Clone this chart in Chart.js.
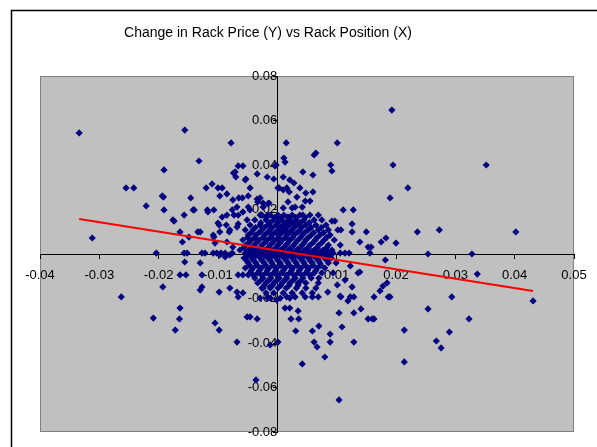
<!DOCTYPE html>
<html>
<head>
<meta charset="utf-8">
<script src="https://cdn.jsdelivr.net/npm/chart.js@4/dist/chart.umd.min.js"></script>
<style>
  html, body { margin: 0; padding: 0; background: #fff; }
  #wrap { position: relative; width: 597px; height: 447px; overflow: hidden; }
</style>
</head>
<body>
<div id="wrap"><canvas id="rackChart" width="597" height="447"></canvas></div>
<script>
// Trend line end points
const trendX = [-0.0334, 0.0431];
const trendY = [0.0157, -0.0166];

// Scattered points, [x, y]
const upperLeft = [
  [-0.0334,0.0544],[-0.0312,0.0072],[-0.0255,0.0297],[-0.0242,0.0297],[-0.0221,0.0216],[-0.0191,0.0378],
  [-0.0194,0.0261],[-0.0191,0.0198],[-0.0156,0.0557],[-0.0132,0.0418],[-0.0078,0.0499],[-0.0174,0.0148],
  [-0.0157,0.0175],[-0.0146,0.0252],[-0.0140,0.0198],[-0.0120,0.0297],[-0.0110,0.0315],[-0.0100,0.0297],
  [-0.0093,0.0297],[-0.0097,0.0261],[-0.0085,0.0270],[-0.0118,0.0198],[-0.0107,0.0198],[-0.0164,0.0099],
  [-0.0160,0.0054],[-0.0149,0.0076],[-0.0134,0.0099],[-0.0130,0.0099],[-0.0204,0.0004],[-0.0157,0.0004],
  [-0.0152,0.0004],[-0.0127,0.0004],[-0.0122,0.0004],[-0.0108,0.0004],[-0.0102,0.0004],[-0.0095,0.0004],
  [-0.0107,0.0076],[-0.0098,0.0130],[-0.0086,0.0130],[-0.0093,0.0166],[-0.0076,0.0198],[-0.0073,0.0175],
  [-0.0068,0.0211],[-0.0081,0.0099],[-0.0075,0.0243],[-0.0065,0.0252],[-0.0059,0.0252],[-0.0049,0.0211],
  [-0.0029,0.0252],[-0.0024,0.0211],[-0.0016,0.0225],[-0.0051,0.0153],[-0.0066,0.0135],[-0.0071,0.0369],
  [-0.0070,0.0346],[-0.0066,0.0396],[-0.0058,0.0396],[-0.0004,0.0396],[-0.0053,0.0337],[-0.0046,0.0297],
  [-0.0192,0.0256],[-0.0176,0.0153],[-0.0142,0.0198],[-0.0117,0.0189],[-0.0085,0.0175],[-0.0100,0.0139],
  [-0.0108,0.0085],[-0.0097,0.0099],[-0.0080,0.0108],[-0.0068,0.0121],[-0.0105,0.0049],[-0.0085,0.0054],
  [-0.0075,0.0031],[-0.0074,0.0364],[-0.0054,0.0333],[-0.0034,0.0360],[-0.0017,0.0346],[-0.0006,0.0337],
  [-0.0049,0.0261],[-0.0034,0.0247],[-0.0033,0.0234],[-0.0024,0.0229],[-0.0014,0.0229],[-0.0046,0.0198],
  [-0.0066,0.0175],[-0.0058,0.0189],[-0.0029,0.0175],[-0.0016,0.0175],[0.0001,0.0297]
];

const upperRight = [
  [0.0015,0.0499],[0.0011,0.0431],[0.0013,0.0413],[0.0062,0.0445],[0.0065,0.0454],[0.0101,0.0499],
  [0.0090,0.0400],[0.0092,0.0373],[0.0190,0.0252],[0.0043,0.0369],[0.0060,0.0355],[0.0010,0.0346],
  [-0.0002,0.0400],[0.0021,0.0333],[0.0028,0.0319],[0.0038,0.0297],[0.0003,0.0297],[0.0010,0.0288],
  [0.0016,0.0297],[0.0020,0.0279],[0.0033,0.0256],[0.0048,0.0274],[0.0060,0.0279],[0.0047,0.0238],
  [0.0055,0.0238],[0.0018,0.0234],[0.0010,0.0207],[0.0025,0.0207],[0.0030,0.0211],[0.0042,0.0211],
  [0.0111,0.0198],[0.0128,0.0198],[0.0001,0.0166],[0.0018,0.0166],[0.0043,0.0175],[0.0193,0.0647],
  [0.0195,0.0400],[0.0352,0.0400],[0.0220,0.0297],[0.0126,0.0135],[0.0126,0.0099],[0.0107,0.0108],
  [0.0150,0.0099],[0.0236,0.0099],[0.0273,0.0108],[0.0402,0.0099],[0.0139,0.0054],[0.0153,0.0031],
  [0.0158,0.0031],[0.0175,0.0054],[0.0183,0.0072],[0.0200,0.0049],[0.0156,0.0004],[0.0121,0.0004],
  [0.0254,0.0000],[0.0328,0.0000],[0.0092,0.0148],[0.0097,0.0148]
];

const lowerRight = [
  [0.0182,-0.0027],[0.0337,-0.0090],[0.0123,-0.0054],[0.0139,-0.0081],[0.0136,-0.0085],[0.0114,-0.0117],
  [0.0126,-0.0148],[0.0101,-0.0139],[0.0104,-0.0656],[0.0214,-0.0485],[0.0214,-0.0342],[0.0268,-0.0391],
  [0.0276,-0.0422],[0.0290,-0.0351],[0.0323,-0.0292],[0.0294,-0.0193],[0.0254,-0.0247],[0.0431,-0.0211],
  [0.0042,-0.0494],[0.0080,-0.0463],[0.0089,-0.0396],[0.0089,-0.0360],[0.0109,-0.0328],[0.0129,-0.0396],
  [0.0062,-0.0396],[0.0067,-0.0418],[0.0059,-0.0346],[0.0070,-0.0324],[0.0160,-0.0292],[0.0163,-0.0292],
  [0.0153,-0.0292],[0.0141,-0.0247],[0.0129,-0.0265],[0.0104,-0.0265],[0.0119,-0.0211],[0.0123,-0.0193],
  [0.0129,-0.0193],[0.0107,-0.0193],[0.0163,-0.0193],[0.0187,-0.0193],[0.0190,-0.0193],[0.0173,-0.0166],
  [0.0178,-0.0144],[0.0185,-0.0130],[0.0106,-0.0189],[0.0031,-0.0346],[0.0023,-0.0292],[0.0036,-0.0292],
  [0.0013,-0.0243],[0.0021,-0.0243],[0.0035,-0.0256],[-0.0001,-0.0207],[0.0016,-0.0193],[0.0030,-0.0193],
  [0.0047,-0.0193],[0.0059,-0.0193],[0.0069,-0.0193],[0.0085,-0.0171],[0.0001,-0.0396]
];

const lowerLeft = [
  [-0.0263,-0.0193],[-0.0209,-0.0288],[-0.0193,-0.0148],[-0.0164,-0.0243],[-0.0165,-0.0292],[-0.0172,-0.0342],
  [-0.0105,-0.0310],[-0.0098,-0.0342],[-0.0068,-0.0396],[-0.0012,-0.0409],[-0.0036,-0.0566],[-0.0051,-0.0283],
  [-0.0046,-0.0283],[-0.0034,-0.0292],[-0.0164,-0.0094],[-0.0154,-0.0094],[-0.0127,-0.0094],[-0.0130,-0.0162],
  [-0.0127,-0.0148],[-0.0098,-0.0171],[-0.0080,-0.0153],[-0.0068,-0.0171],[-0.0066,-0.0094],[-0.0058,-0.0094],
  [-0.0049,-0.0094],[-0.0066,-0.0193],[-0.0156,-0.0036],[-0.0130,-0.0040],[-0.0097,-0.0004],[-0.0088,-0.0013],
  [-0.0080,-0.0004],[-0.0024,-0.0153],[-0.0012,-0.0148],[-0.0029,-0.0198],[-0.0017,-0.0198],[-0.0058,-0.0175]
];

// Dense cluster near the origin, one x list per row
const coreRowY = [0.0175,0.0153,0.0130,0.0108,0.0085,0.0063,0.0040,0.0018,0.0004,
                  -0.0018,-0.0040,-0.0063,-0.0085,-0.0108,-0.0130,-0.0153,-0.0175,-0.0198,
                  0.0164,0.0141,0.0119,0.0096,0.0074,0.0051,0.0029,0.0011,
                  -0.0007,-0.0029,-0.0051,-0.0074,-0.0096,-0.0119,-0.0141];
const coreRowX = [
  [-0.0026,-0.0012,0.0001,0.0011,0.0025,0.0038,0.0055,0.0069],
  [-0.0038,-0.0019,-0.0006,0.0008,0.0021,0.0032,0.0045,0.0062,0.0075],
  [-0.0046,-0.0029,-0.0016,-0.0002,0.0010,0.0020,0.0033,0.0048,0.0065,0.0082],
  [-0.0054,-0.0041,-0.0026,-0.0012,0.0001,0.0013,0.0025,0.0038,0.0052,0.0069,0.0086,0.0102],
  [-0.0049,-0.0036,-0.0022,-0.0009,0.0003,0.0016,0.0028,0.0042,0.0057,0.0072,0.0089],
  [-0.0058,-0.0044,-0.0031,-0.0017,-0.0004,0.0008,0.0021,0.0035,0.0048,0.0064,0.0079,0.0096],
  [-0.0053,-0.0039,-0.0026,-0.0012,0.0001,0.0015,0.0028,0.0042,0.0055,0.0070,0.0086,0.0106],
  [-0.0063,-0.0048,-0.0034,-0.0021,-0.0007,0.0006,0.0020,0.0033,0.0047,0.0062,0.0077,0.0092],
  [-0.0088,-0.0076,-0.0054,-0.0043,-0.0029,-0.0016,-0.0002,0.0011,0.0025,0.0038,0.0052,0.0065,0.0079,0.0094,0.0106,0.0114],
  [-0.0056,-0.0043,-0.0029,-0.0016,-0.0002,0.0011,0.0025,0.0038,0.0052,0.0065,0.0079,0.0091],
  [-0.0049,-0.0036,-0.0022,-0.0009,0.0005,0.0018,0.0032,0.0045,0.0059,0.0072,0.0086,0.0099],
  [-0.0054,-0.0041,-0.0027,-0.0014,-0.0001,0.0013,0.0026,0.0040,0.0053,0.0067,0.0080],
  [-0.0046,-0.0033,-0.0019,-0.0006,0.0008,0.0021,0.0035,0.0048,0.0062,0.0075,0.0094],
  [-0.0038,-0.0024,-0.0011,0.0003,0.0016,0.0030,0.0043,0.0057,0.0070],
  [-0.0033,-0.0019,-0.0006,0.0008,0.0021,0.0035,0.0048,0.0069],
  [-0.0026,-0.0012,0.0001,0.0015,0.0032,0.0048,0.0065],
  [-0.0019,-0.0006,0.0010,0.0025,0.0042,0.0059],
  [-0.0012,0.0005,0.0021],
  [-0.0019,-0.0005,0.0006,0.0018,0.0031,0.0047],
  [-0.0028,-0.0012,0.0001,0.0015,0.0027,0.0039,0.0054],
  [-0.0037,-0.0022,-0.0009,0.0005,0.0016,0.0028,0.0041,0.0057,0.0074],
  [-0.0044,-0.0031,-0.0017,-0.0004,0.0008,0.0020,0.0033,0.0046,0.0061,0.0078],
  [-0.0050,-0.0038,-0.0024,-0.0011,0.0002,0.0014,0.0026,0.0039,0.0052,0.0067,0.0083],
  [-0.0048,-0.0035,-0.0021,-0.0008,0.0005,0.0018,0.0031,0.0045,0.0060,0.0075],
  [-0.0056,-0.0041,-0.0028,-0.0015,-0.0002,0.0011,0.0024,0.0038,0.0052,0.0067,0.0083],
  [-0.0050,-0.0036,-0.0023,-0.0009,0.0004,0.0017,0.0030,0.0044,0.0058,0.0072,0.0086],
  [-0.0050,-0.0036,-0.0022,-0.0009,0.0004,0.0018,0.0031,0.0045,0.0058,0.0072,0.0085],
  [-0.0052,-0.0040,-0.0026,-0.0012,0.0001,0.0015,0.0028,0.0042,0.0055,0.0069,0.0084],
  [-0.0047,-0.0034,-0.0020,-0.0007,0.0006,0.0020,0.0033,0.0047,0.0060,0.0073],
  [-0.0044,-0.0030,-0.0017,-0.0003,0.0010,0.0024,0.0037,0.0051,0.0065],
  [-0.0040,-0.0026,-0.0012,0.0001,0.0015,0.0028,0.0042,0.0055],
  [-0.0028,-0.0015,-0.0001,0.0012,0.0026,0.0040],
  [-0.0022,-0.0008,0.0006,0.0020,0.0035]
];

const xTicks = { min: -0.04, max: 0.05, step: 0.01 };
const yTicks = { min: -0.08, max: 0.08, step: 0.02 };

const navy = '#000080';
const fontFamily = "'Liberation Sans', Arial, sans-serif";

// Build point list
const scatterPoints = [];
[upperLeft, upperRight, lowerRight, lowerLeft].forEach(group => {
  group.forEach(p => scatterPoints.push({ x: p[0], y: p[1] }));
});
coreRowY.forEach((y, i) => {
  coreRowX[i].forEach(x => scatterPoints.push({ x: x, y: y }));
});
const trendPoints = trendX.map((x, i) => ({ x: x, y: trendY[i] }));

function tickLabel(v) {
  return Math.abs(v) < 1e-9 ? '0' : v.toFixed(2);
}

// Gray plot area, outer frame and title
const excelFrame = {
  id: 'excelFrame',
  beforeDraw(chart) {
    const { ctx, chartArea: a } = chart;
    ctx.save();
    ctx.fillStyle = '#fff';
    ctx.fillRect(0, 0, chart.width, chart.height);
    ctx.strokeStyle = '#000';
    ctx.lineWidth = 1.5;
    ctx.strokeRect(11.5, 10.5, 1000, 1000);
    ctx.fillStyle = '#c0c0c0';
    ctx.fillRect(a.left, a.top, a.right - a.left, a.bottom - a.top);
    ctx.strokeStyle = '#808080';
    ctx.lineWidth = 1;
    ctx.strokeRect(a.left + 0.5, a.top + 0.5, a.right - a.left - 1, a.bottom - a.top - 1);
    ctx.fillStyle = '#000';
    ctx.font = '14px ' + fontFamily;
    ctx.textAlign = 'center';
    ctx.textBaseline = 'alphabetic';
    ctx.fillText('Change in Rack Price (Y) vs Rack Position (X)', 268, 37);
    ctx.restore();
  }
};

const axisCommon = {
  type: 'linear',
  grid: { drawOnChartArea: false, drawTicks: true, tickLength: 4, color: '#000', lineWidth: 1 },
  border: { display: true, color: '#000', width: 1 }
};

new Chart(document.getElementById('rackChart').getContext('2d'), {
  type: 'scatter',
  data: {
    datasets: [
      {
        label: 'Trend',
        type: 'line',
        data: trendPoints,
        borderColor: '#ff0000',
        borderWidth: 2,
        pointRadius: 0,
        fill: false,
        showLine: true
      },
      {
        label: 'Rack',
        data: scatterPoints,
        pointStyle: 'rectRot',
        pointRadius: 3.6,
        pointBorderWidth: 0,
        backgroundColor: navy,
        borderColor: navy
      }
    ]
  },
  options: {
    responsive: false,
    animation: false,
    layout: { padding: { left: 40, top: 76, right: 23, bottom: 15 } },
    plugins: {
      legend: { display: false },
      tooltip: { enabled: false },
      title: { display: false }
    },
    scales: {
      x: {
        ...axisCommon,
        position: { y: 0 },
        min: xTicks.min,
        max: xTicks.max,
        ticks: { stepSize: xTicks.step, color: '#000', padding: 10, maxRotation: 0,
                 font: { family: fontFamily, size: 13 }, callback: tickLabel }
      },
      y: {
        ...axisCommon,
        position: { x: 0 },
        min: yTicks.min,
        max: yTicks.max,
        ticks: { stepSize: yTicks.step, color: '#000', padding: 7,
                 font: { family: fontFamily, size: 13 }, callback: tickLabel }
      }
    }
  },
  plugins: [excelFrame]
});
</script>
</body>
</html>
